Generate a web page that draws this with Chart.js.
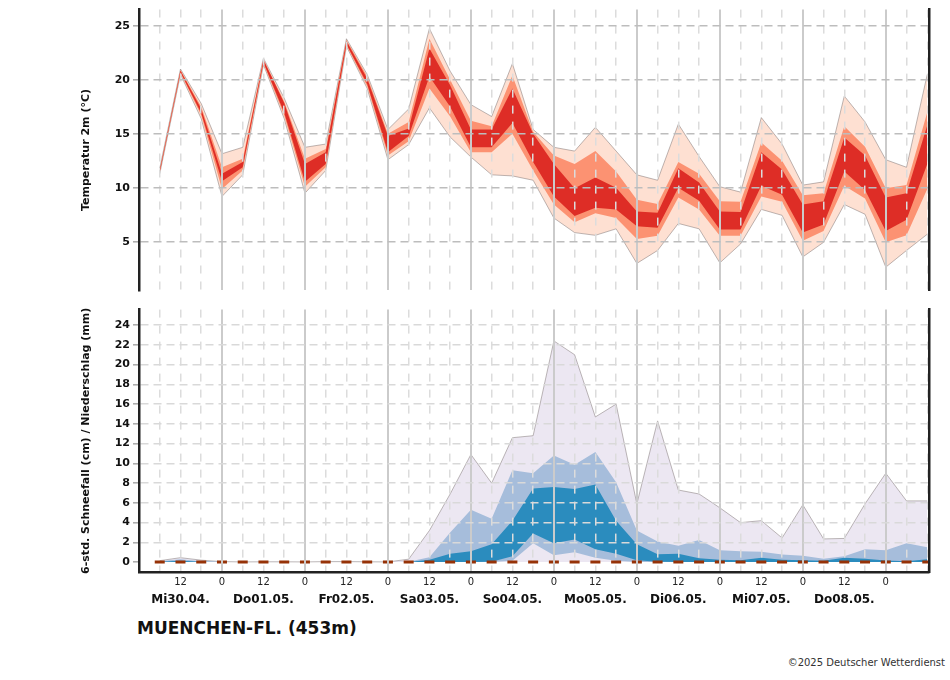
<!DOCTYPE html>
<html>
<head>
<meta charset="utf-8">
<script src="https://cdn.jsdelivr.net/npm/chart.js@4/dist/chart.umd.min.js"></script>
<style>
body{margin:0;background:#fff;width:950px;height:680px;position:relative;overflow:hidden;font-family:"DejaVu Sans",sans-serif}
canvas{position:absolute;left:0}
#tempChart{top:0}
#precChart{top:300px}
.station{position:absolute;left:137px;top:617px;font-size:17px;font-weight:bold;color:#111;line-height:22px}
.copy{position:absolute;right:5px;top:656px;font-size:10px;color:#333;line-height:13px}
</style>
</head>
<body>
<canvas id="tempChart" width="950" height="300"></canvas>
<canvas id="precChart" width="950" height="312"></canvas>
<div class="station">MUENCHEN-FL. (453m)</div>
<div class="copy">©2025 Deutscher Wetterdienst</div>
<script>
// forecast hours after Mi30.04. 00 UTC, one value every 6 h
const hours = [6,12,18,24,30,36,42,48,54,60,66,72,78,84,90,96,102,108,114,120,
  126,132,138,144,150,156,162,168,174,180,186,192,198,204,210,216,222,228];
const hourLabels = ['','12','','0','','12','','0','','12','','0','','12','','0','','12','','0',
  '','12','','0','','12','','0','','12','','0','','12','','0','',''];
const dayHours = [12,36,60,84,108,132,156,180,204];
const dayLabels = ['Mi30.04.','Do01.05.','Fr02.05.','Sa03.05.','So04.05.','Mo05.05.','Di06.05.','Mi07.05.','Do08.05.'];
const tempTicks = [5,10,15,20,25];
const precTicks = [0,2,4,6,8,10,12,14,16,18,20,22,24];

// temperature 2m ensemble (°C)
const tMax = [11.8,21.0,17.8,13.15,13.75,22.0,18.3,13.75,14.05,23.8,20.5,15.4,17.3,24.75,20.8,17.7,16.6,21.5,15.4,13.75,
  13.4,15.6,13.4,11.2,10.7,15.9,12.9,10.1,9.6,16.5,14.05,10.25,10.55,18.5,16.1,12.6,11.9,20.5];
const tP90 = [11.65,20.9,17.5,11.9,12.7,21.9,18.0,12.7,13.6,23.7,20.3,15.0,16.1,23.8,20.0,16.2,15.7,20.4,15.2,13.0,
  12.2,13.4,11.5,8.9,8.5,12.4,11.3,8.75,8.7,14.2,12.5,9.3,9.5,15.7,13.8,9.95,10.25,17.0];
const tP75 = [11.6,20.85,17.3,11.3,12.4,21.85,17.85,12.2,13.3,23.6,20.1,14.8,15.5,22.9,19.5,15.4,15.4,19.2,15.0,12.2,
  9.95,10.95,10.0,7.8,7.7,11.8,10.5,7.8,7.75,13.3,11.7,8.45,8.75,14.65,13.0,9.1,9.5,15.8];
const tP25 = [11.45,20.7,16.9,10.6,11.9,21.6,16.95,10.55,12.2,23.3,19.6,13.3,14.8,20.3,17.5,13.75,13.75,16.0,12.4,9.2,
  7.4,8.15,8.0,6.45,6.3,10.0,8.8,6.15,6.15,10.2,9.35,5.85,6.6,11.5,9.8,6.0,7.05,12.2];
const tP10 = [11.4,20.6,16.7,9.9,11.6,21.5,16.7,10.1,11.9,23.2,19.4,13.0,14.3,19.2,16.6,13.3,13.3,15.0,11.6,8.45,
  6.8,7.65,7.2,5.25,5.55,9.1,8.0,5.55,5.55,9.2,8.7,5.1,6.0,10.2,9.0,4.95,5.6,9.9];
const tMin = [11.3,20.5,16.4,9.2,11.2,21.4,16.4,9.5,11.6,23.1,19.2,12.6,14.0,17.4,14.7,12.85,11.2,11.1,10.7,7.2,
  5.85,5.6,6.2,3.0,4.2,6.7,6.2,3.05,4.8,8.0,7.45,3.6,4.95,8.45,7.55,2.65,4.2,5.7];

// 6-hourly precipitation ensemble (mm), minimum is 0 everywhere
const pMax = [0.15,0.45,0.2,0.05,0.02,0.03,0.03,0.02,0.05,0.05,0.03,0.02,0.3,3.2,6.9,10.9,8.0,12.6,12.8,22.4,
  21.0,14.7,16.0,5.9,14.3,7.3,6.9,5.5,4.0,4.2,2.45,5.8,2.35,2.4,5.9,9.0,6.2,6.2];
const pP90 = [0.1,0.3,0.1,0,0,0,0,0,0,0,0,0,0.05,0.5,3.0,5.3,4.4,9.3,9.0,10.8,
  9.85,11.15,8.1,3.2,2.1,1.65,2.25,1.2,1.1,1.05,0.77,0.65,0.33,0.6,1.3,1.2,1.9,1.5];
const pP75 = [0.05,0.15,0.05,0,0,0,0,0,0,0,0,0,0.02,0.25,0.85,1.1,1.8,4.2,7.45,7.6,
  7.4,7.85,4.2,1.8,0.8,0.85,0.4,0.25,0.2,0.45,0.25,0.2,0.13,0.45,0.33,0.17,0.08,0.3];
const pP25 = [0,0,0,0,0,0,0,0,0,0,0,0,0,0,0,0,0.05,0.6,2.9,1.9,
  2.3,1.3,0.85,0.2,0.05,0,0,0,0,0,0,0,0,0,0,0,0,0];
const pP10 = [0,0,0,0,0,0,0,0,0,0,0,0,0,0,0,0,0,0.15,1.9,0.7,
  1.0,0.45,0.15,0,0,0,0,0,0,0,0,0,0,0,0,0,0,0];
// 6-hourly snowfall (cm)
const snow = [0,0,0,0,0,0,0,0,0,0,0,0,0,0,0,0,0,0,0,0,0,0,0,0,0,0,0,0,0,0,0,0,0,0,0,0,0,0];

Chart.defaults.font.family = '"DejaVu Sans", sans-serif';

function series(arr){
  return hours.map((h,i)=>({x:h, y:arr[i]}));
}

function band(arr, color, fill, order, outline){
  return {
    data: series(arr),
    backgroundColor: color || 'rgba(0,0,0,0)',
    borderColor: outline ? 'rgba(120,110,110,0.7)' : 'rgba(0,0,0,0)',
    borderWidth: outline ? 0.7 : 0,
    fill: fill, order: order,
    pointRadius: 0, tension: 0
  };
}

function hourAxis(showLabels){
  return {
    type: 'linear', min: 0, max: 228.5,
    afterBuildTicks: s => { s.ticks = hours.map(h=>({value:h})); },
    afterFit: s => { s.height = showLabels ? 18 : 0; },
    grid: {
      z: 1, drawTicks: false,
      color: c => c.tick && c.tick.value % 24 === 0 ? '#cbcbcb' : '#dcdcdc',
      lineWidth: c => c.tick && c.tick.value % 24 === 0 ? 2 : 1.5
    },
    border: {
      display: showLabels, color: '#222', width: 2.5, z: 2,
      dash: c => (c.tick && c.tick.value % 24 !== 0) ? [8,8] : []
    },
    ticks: {
      display: showLabels, autoSkip: false, maxRotation: 0, padding: 4, color: '#222',
      font: {size: 10},
      callback: v => hourLabels[hours.indexOf(v)]
    }
  };
}

function valueAxis(lo, hi, tickList, gridColor, title, titlePad){
  return {
    min: lo, max: hi,
    afterBuildTicks: s => { s.ticks = tickList.map(v=>({value:v})); },
    afterFit: s => { s.width = 139; },
    grid: {
      z: 1, lineWidth: 1.6, tickColor: '#aaa', tickLength: 6, tickWidth: 1.5,
      // the zero line of the lower panel stays free for the snowfall marks
      color: c => (c.tick && c.tick.value === 0 && lo < 0) ? 'rgba(0,0,0,0)' : gridColor
    },
    border: {color: '#222', width: 2.5, z: 2, dash: c => c.tick ? [8,5] : []},
    ticks: {padding: 3, color: '#111', font: {size: 11, weight: 'bold'}},
    title: {display: true, text: title, color: '#111', font: {size: 11, weight: 'bold'},
      padding: {top: titlePad, bottom: 0}}
  };
}

function rightBorder(lo, hi){
  return {
    position: 'right', min: lo, max: hi,
    afterFit: s => { s.width = 0; },
    grid: {display: false}, ticks: {display: false},
    border: {color: '#222', width: 2.5, z: 2}
  };
}

const common = {
  responsive: false, animation: false, devicePixelRatio: 1,
  plugins: {legend: {display: false}, tooltip: {enabled: false}}
};

// Temperature panel
new Chart(document.getElementById('tempChart'), {
  type: 'line',
  data: {
    datasets: [
      band(tP75, '#de2d26', '+1', 0),
      band(tP25, null, false, 1),
      band(tP90, '#fc9272', '+1', 2),
      band(tP10, null, false, 3),
      band(tMax, '#fee0d2', '+1', 5, true),
      band(tMin, null, false, 4, true)
    ]
  },
  options: Object.assign({}, common, {
    layout: {padding: {top: 7, right: 21, bottom: 8, left: 0}},
    scales: {
      x: hourAxis(false),
      y: valueAxis(0.5, 26.5, tempTicks, '#bdbdbd', 'Temperatur 2m (°C)', 80),
      yr: rightBorder(0.5, 26.5)
    }
  })
});

// Precipitation panel
const snowSet = {
  data: series(snow), showLine: false, order: -1,
  pointStyle: 'line', pointRadius: 5, pointBorderWidth: 3,
  pointBorderColor: '#963207', pointBackgroundColor: '#963207'
};

new Chart(document.getElementById('precChart'), {
  type: 'line',
  data: {
    datasets: [
      band(pP75, '#2b8cbe', '+1', 0),
      band(pP25, null, false, 1),
      band(pP90, '#a6bddb', '+1', 2),
      band(pP10, null, false, 3),
      band(pMax, '#ece7f2', 'origin', 4, true),
      snowSet
    ]
  },
  options: Object.assign({}, common, {
    layout: {padding: {top: 6, right: 21, bottom: 0, left: 0}},
    scales: {
      x: hourAxis(true),
      x2: {
        type: 'linear', position: 'bottom', min: 0, max: 228.5, weight: 1,
        afterBuildTicks: s => { s.ticks = dayHours.map(h=>({value:h})); },
        afterFit: s => { s.height = 22; },
        grid: {display: false, drawTicks: false},
        border: {display: false},
        ticks: {autoSkip: false, maxRotation: 0, padding: 3, color: '#111',
          font: {size: 12, weight: 'bold'},
          callback: v => dayLabels[dayHours.indexOf(v)]}
      },
      y: valueAxis(-1, 25.57, precTicks, '#d9d9d9', '6-std. Schneefall (cm) / Niederschlag (mm)', 80),
      yr: rightBorder(-1, 25.57)
    }
  })
});
</script>
</body>
</html>
